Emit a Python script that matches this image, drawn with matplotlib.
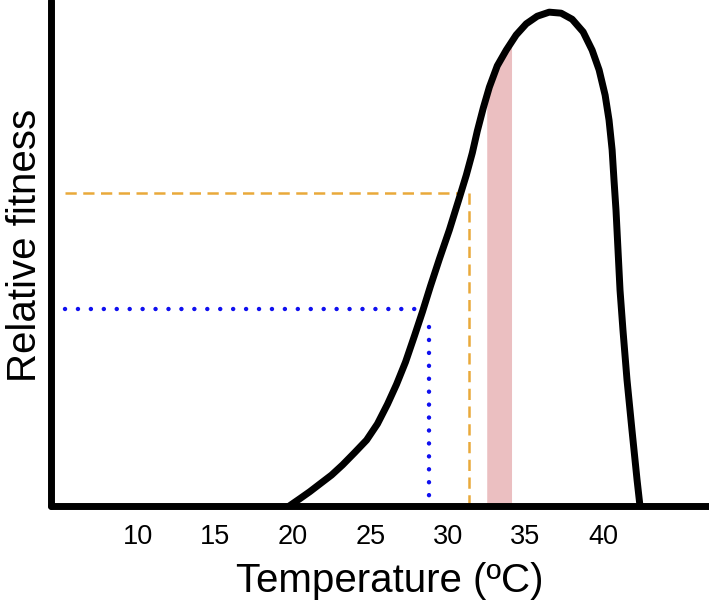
import matplotlib
matplotlib.use('Agg')
import matplotlib.pyplot as plt
import numpy as np

plt.rcParams['font.family'] = ['Liberation Sans', 'DejaVu Sans']

# thermal performance curve
temp = [19.72, 20.43, 21.08, 21.72, 22.49, 23.20, 23.97, 24.75, 25.45, 26.10,
        26.68, 27.26, 27.84, 28.35, 28.87, 29.45, 30.09, 30.73, 31.18, 31.57,
        31.89, 32.28, 32.67, 33.18, 33.76, 34.40, 35.05, 35.76, 36.53, 37.30,
        38.01, 38.72, 39.30, 39.75, 40.14, 40.39, 40.59, 40.71, 40.84, 40.97,
        41.10, 41.29, 41.55, 41.87, 42.20, 42.39]
fitness = [0.0, 0.015, 0.029, 0.044, 0.062, 0.082, 0.106, 0.131, 0.163, 0.202,
           0.241, 0.285, 0.337, 0.384, 0.435, 0.489, 0.546, 0.609, 0.654, 0.698,
           0.741, 0.787, 0.828, 0.870, 0.901, 0.931, 0.953, 0.968, 0.976, 0.974,
           0.962, 0.937, 0.901, 0.862, 0.812, 0.763, 0.704, 0.645, 0.585, 0.506,
           0.427, 0.348, 0.250, 0.151, 0.052, 0.0]

xticks = [10, 15, 20, 25, 30, 35, 40]

band = [32.5, 34.1]          # shaded range
blue_t, blue_f = 28.8, 0.389    # dotted guide
orange_t, orange_f = 31.35, 0.619  # dashed guide
guide_start = 5.3

fig = plt.figure(figsize=(7.09, 6.06), dpi=100)
ax = fig.add_axes([0.0726, 0.1643, 0.9274, 0.8357])

# pink band under the curve
bx = np.linspace(band[0], band[1], 40)
ax.fill_between(bx, 0, np.interp(bx, temp, fitness), color='#ebbfc1', lw=0, zorder=1)

# guides
ax.plot([guide_start, 30.65], [orange_f, orange_f], color='#e9a93a', lw=1.8,
        linestyle=(0, (4.5, 2.6)), zorder=2)
ax.plot([orange_t, orange_t], [orange_f, 0], color='#e9a93a', lw=1.8,
        linestyle=(0, (4.5, 2.6)), zorder=2)
ax.plot([guide_start, 28.2], [blue_f, blue_f], color='#1010f0', lw=3.2,
        linestyle=(0, (0.01, 2.9)), dash_capstyle='round', zorder=2)
ax.plot([blue_t, blue_t], [blue_f - 0.035, 0], color='#1010f0', lw=3.2,
        linestyle=(0, (0.01, 2.9)), dash_capstyle='round', zorder=2)

ax.plot(temp, fitness, color='black', lw=5, solid_capstyle='round',
        solid_joinstyle='round', zorder=3)

ax.set_xlim(4.42, 46.84)
ax.set_ylim(0, 1)
ax.set_xticks(xticks)
ax.set_xticklabels([str(t) for t in xticks])
ax.set_yticks([])
ax.tick_params(axis='x', length=0, pad=13, labelsize=19.5)

for s in ['top', 'right']:
    ax.spines[s].set_visible(False)
for s in ['left', 'bottom']:
    ax.spines[s].set_linewidth(5)
    ax.spines[s].set_capstyle('round')

ax.set_xlabel('Temperature (ºC)', fontsize=29)
ax.xaxis.set_label_coords(0.515, -0.11)
ax.set_ylabel('Relative fitness', fontsize=29)
ax.yaxis.set_label_coords(-0.012, 0.516)

fig.savefig('out.png', dpi=100)
